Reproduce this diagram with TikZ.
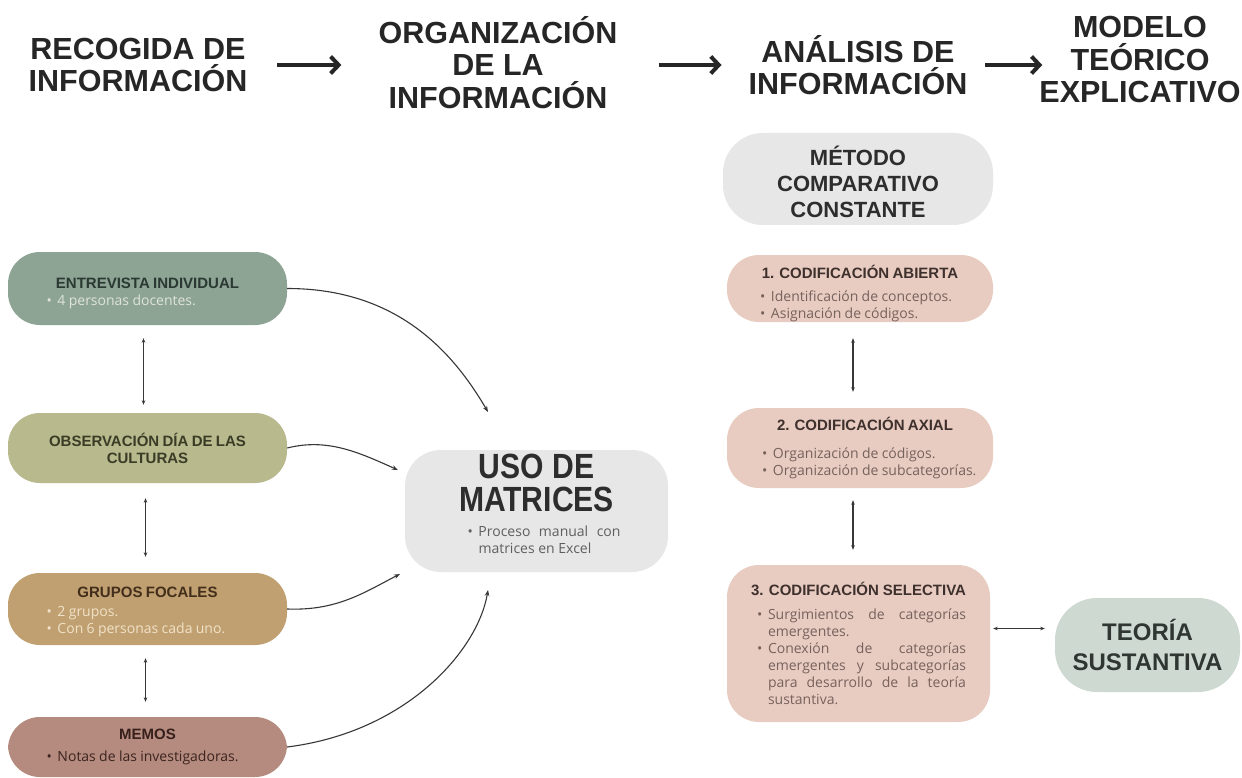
\documentclass[tikz,border=0pt]{standalone}
\usepackage{fontspec}
\setmainfont{Liberation Sans}
\newfontfamily\bodyf{Open Sans}
\newfontfamily\condf[FakeStretch=0.86]{Liberation Sans}
\usetikzlibrary{arrows.meta}
\hyphenpenalty=10000
\exhyphenpenalty=10000
\definecolor{hdrc}{RGB}{38,38,38}
\definecolor{linec}{RGB}{55,55,55}
\definecolor{cEnt}{RGB}{141,163,148}
\definecolor{cEntT}{RGB}{42,58,50}
\definecolor{cEntB}{RGB}{222,228,216}
\definecolor{cObs}{RGB}{184,185,141}
\definecolor{cObsT}{RGB}{58,60,38}
\definecolor{cGrp}{RGB}{192,160,113}
\definecolor{cGrpT}{RGB}{66,46,26}
\definecolor{cGrpB}{RGB}{240,226,200}
\definecolor{cMem}{RGB}{180,139,126}
\definecolor{cMemT}{RGB}{55,32,28}
\definecolor{cMemB}{RGB}{60,36,32}
\definecolor{cGray}{RGB}{231,231,231}
\definecolor{cGrayT}{RGB}{45,45,45}
\definecolor{cGrayB}{RGB}{95,95,95}
\definecolor{cPink}{RGB}{233,204,193}
\definecolor{cPinkT}{RGB}{62,48,45}
\definecolor{cPinkB}{RGB}{118,98,93}
\definecolor{cTeo}{RGB}{206,217,209}
\definecolor{cTeoT}{RGB}{48,54,50}
\newcommand\bitem[1]{\par\hangindent=11pt\hangafter=1\noindent\makebox[11pt][l]{•}\ignorespaces#1\par}
\newcommand\ttl[2]{{\centering\color{#1}\fontsize{15}{17}\selectfont\bfseries #2\par}}
\newcommand\bodytxt{\fontsize{14}{17}\bodyf}
\begin{document}
\begin{tikzpicture}[x=1pt,y=-1pt,
  hdr/.style={font=\fontsize{30.5}{32.5}\selectfont\bfseries, text=hdrc, align=center, inner sep=0pt},
  harrow/.style={line width=4.5pt, draw=hdrc, -{Straight Barb[length=8pt,width=17pt,line width=4pt]}},
  pill/.style={rounded corners=#1, inner sep=0pt, draw=none},
  pill/.default=32pt,
  txt/.style={inner sep=0pt},
  conn/.style={draw=linec, line width=1.1pt, -{Stealth[length=6pt,width=4.5pt]}},
  dbl/.style={draw=linec, line width=1.1pt, {Stealth[length=4.5pt,width=3.5pt]}-{Stealth[length=4.5pt,width=3.5pt]}}
]
\useasboundingbox[fill=white] (0,0) rectangle (1242,778);

% headers
\node[hdr] (h1) at (138,65) {RECOGIDA DE\\INFORMACIÓN};
\node[hdr] (h2) at (498,62.5) {ORGANIZACIÓN\\DE LA\\INFORMACIÓN};
\node[hdr] (h3) at (858,65) {ANÁLISIS DE\\INFORMACIÓN};
\node[hdr] (h4) at (1140,60) {MODELO\\TEÓRICO\\EXPLICATIVO};
\draw[harrow] ([xshift=30pt]h1.east) -- ([xshift=-37pt]h2.west |- h1.east);
\draw[harrow] ([xshift=41pt]h2.east |- h3.east) -- ([xshift=-27pt]h3.west);
\draw[harrow] ([xshift=18pt]h3.east) -- ([xshift=3pt]h4.west |- h3.east);

% left column
\node[pill, fill=cEnt, minimum width=279pt, minimum height=73pt] (ent) at (147.5,288.5) {};
\node[txt, text width=240pt, align=left, yshift=-4.5pt] (entT) at (ent)
 {\ttl{cEntT}{ENTREVISTA INDIVIDUAL}\vspace{0pt}{\bodytxt\color{cEntB}\leftskip=19pt\bitem{4 personas docentes.}}};
\node[pill, fill=cObs, minimum width=279pt, minimum height=70pt] (obs) at (147.5,448) {};
\node[txt, text width=240pt, align=center] (obsT) at (obs)
 {\ttl{cObsT}{OBSERVACIÓN DÍA DE LAS\\CULTURAS}};
\node[pill, fill=cGrp, minimum width=279pt, minimum height=72pt] (grp) at (147.5,609) {};
\node[txt, text width=240pt, align=left, yshift=-3pt] (grpT) at (grp)
 {\ttl{cGrpT}{GRUPOS FOCALES}\vspace{2pt}{\bodytxt\color{cGrpB}\leftskip=19pt\bitem{2 grupos.}\bitem{Con 6 personas cada uno.}}};
\node[pill, fill=cMem, minimum width=279pt, minimum height=60pt] (mem) at (147.5,747) {};
\node[txt, text width=240pt, align=left] (memT) at (mem)
 {\ttl{cMemT}{MEMOS}\vspace{5pt}{\bodytxt\color{cMemB}\leftskip=19pt\bitem{Notas de las investigadoras.}}};

\draw[dbl] ([xshift=-4pt,yshift=-13pt]ent.south) -- ([xshift=-4pt,yshift=8pt]obs.north);
\draw[dbl] ([xshift=-2pt,yshift=-15pt]obs.south) -- ([xshift=-2pt,yshift=16pt]grp.north);
\draw[dbl] ([xshift=-2pt,yshift=-13pt]grp.south) -- ([xshift=-2pt,yshift=15pt]mem.north);

% matrices
\node[pill=36pt, fill=cGray, minimum width=263pt, minimum height=122pt] (mat) at (536.5,511) {};
\node[txt, text width=200pt, align=justify, yshift=7.5pt] (matT) at (mat)
 {{\centering\color{cGrayT}\condf\bfseries\fontsize{35}{33}\selectfont USO DE\\MATRICES\par}\vspace{8pt}
  {\color{cGrayB}\fontsize{14}{17}\bodyf\leftskip=31pt\rightskip=16pt\parfillskip=0pt plus 1fil
   \bitem{Proceso manual con\linebreak matrices en Excel}}};

\coordinate (m1) at (488,412);
\coordinate (m2) at (398,470);
\coordinate (m3) at (400,574);
\coordinate (m4) at (488,590);
\draw[conn] (ent.east) .. controls +(110,0) and +(-35,-60) .. (m1);
\draw[conn] (obs.east) .. controls +(40,-10) and +(-40,-18) .. (m2);
\draw[conn] (grp.east) .. controls +(50,2) and +(-35,18) .. (m3);
\draw[conn] (mem.east) .. controls +(120,-15) and +(-10,60) .. (m4);

% right column
\node[pill=40pt, fill=cGray, minimum width=270pt, minimum height=92pt] (met) at (858,179) {};
\node[txt, align=center, font=\fontsize{22}{26}\selectfont\bfseries, text=cGrayT, yshift=-3pt] (metT) at (met)
 {MÉTODO\\COMPARATIVO\\CONSTANTE};

\node[pill, fill=cPink, minimum width=266pt, minimum height=67pt] (c1) at (860,288.5) {};
\node[txt, text width=232pt, align=left, yshift=-5pt] (c1T) at (c1)
 {\ttl{cPinkT}{1. CODIFICACIÓN ABIERTA}\vspace{6pt}{\bodytxt\color{cPinkB}\leftskip=16pt
  \bitem{Identificación de conceptos.}\bitem{Asignación de códigos.}}};
\node[pill, fill=cPink, minimum width=266pt, minimum height=80pt] (c2) at (860,448) {};
\node[txt, text width=250pt, align=left] (c2T) at (c2)
 {\ttl{cPinkT}{\hspace*{10pt}2. CODIFICACIÓN AXIAL}\vspace{11pt}{\bodytxt\color{cPinkB}\leftskip=27pt
  \bitem{Organización de códigos.}\bitem{Organización de subcategorías.}}};
\node[pill, fill=cPink, minimum width=263pt, minimum height=157pt] (c3) at (858.5,643.5) {};
\node[txt, text width=215pt, align=justify] (c3T) at (c3)
 {\ttl{cPinkT}{3. CODIFICACIÓN SELECTIVA}\vspace{7pt}{\bodytxt\color{cPinkB}\leftskip=6pt\rightskip=0pt\parfillskip=0pt plus 1fil
  \bitem{Surgimientos de categorías\linebreak emergentes.}
  \bitem{Conexión de categorías\linebreak emergentes y subcategorías\linebreak para desarrollo de la teoría\linebreak sustantiva.}}};

\node[pill=42pt, fill=cTeo, minimum width=185pt, minimum height=94pt, align=center,
  font=\fontsize{24}{30}\selectfont\bfseries, text=cTeoT] (teo) at (1147.5,645)
 {TEORÍA\\SUSTANTIVA};

\draw[dbl] ([xshift=-7pt,yshift=-16pt]c1.south) -- ([xshift=-7pt,yshift=16pt]c2.north);
\draw[dbl] ([xshift=-7pt,yshift=-12pt]c2.south) -- ([xshift=-5.5pt,yshift=15pt]c3.north);
\coordinate (c3a) at ([xshift=3pt,yshift=15pt]c3.east);
\draw[dbl] (c3a) -- ([xshift=-10pt]teo.west |- c3a);
\end{tikzpicture}
\end{document}
